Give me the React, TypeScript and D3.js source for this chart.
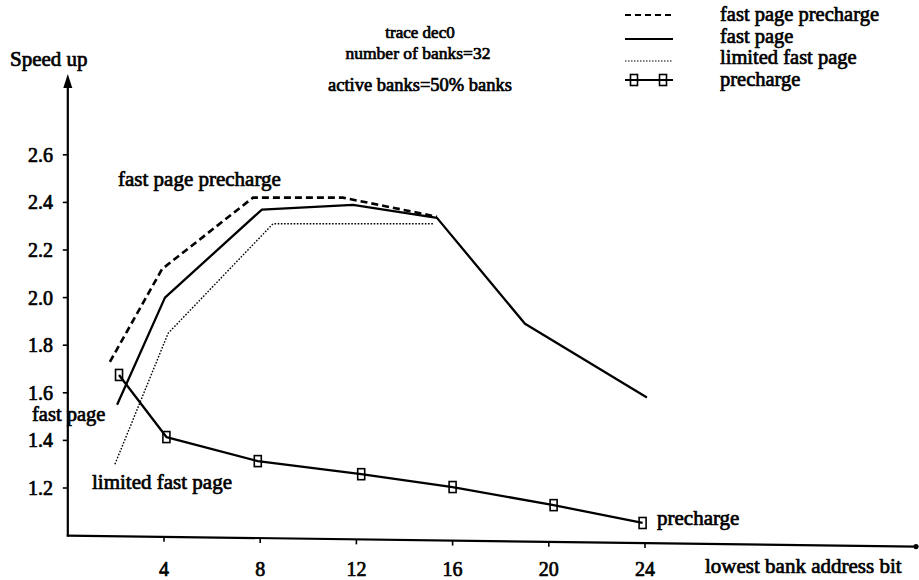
import React from "react";
import * as d3 from "d3";

// Speed-up vs. lowest bank address bit, trace dec0
const fastPagePrechargeX = [1.75, 3.92, 7.7, 11.44, 15.35];
const fastPagePrechargeY = [1.73, 2.12, 2.42, 2.42, 2.34];

const fastPageX = [2.05, 4.04, 8.07, 11.86, 15.35, 19.01, 24.08];
const fastPageY = [1.55, 2.0, 2.37, 2.39, 2.335, 1.89, 1.58];

const limitedFastPageX = [1.96, 4.17, 8.53, 15.18];
const limitedFastPageY = [1.3, 1.85, 2.31, 2.31];

const prechargeX = [2.13, 4.1, 7.9, 12.2, 16.0, 20.2, 23.9];
const prechargeY = [1.675, 1.414, 1.313, 1.258, 1.204, 1.128, 1.053];

const xTicks = [4, 8, 12, 16, 20, 24];
const yTicks = [1.2, 1.4, 1.6, 1.8, 2.0, 2.2, 2.4, 2.6];

const titleLines = ["trace  dec0", "number of banks=32", "active banks=50% banks"];
const legendLabels = ["fast page precharge", "fast page", "limited fast page", "precharge"];

const W = 919;
const H = 580;

const FONT = "'Liberation Serif', 'Times New Roman', serif";

// shared text attributes: serif, slightly heavy
const txt = {
  fontFamily: FONT,
  fill: "#000",
  stroke: "#000",
  strokeWidth: 0.7,
  strokeLinejoin: "round" as const,
};

export default function App() {
  const x = d3.scaleLinear().domain([0, 24]).range([67.8, 645]);
  const y = d3.scaleLinear().domain([1.0, 2.6]).range([535.6, 154.8]);

  const zip = (xs: number[], ys: number[]) => xs.map((v, i) => [v, ys[i]] as [number, number]);
  const line = d3
    .line<[number, number]>()
    .x((d) => x(d[0]))
    .y((d) => y(d[1]));

  const x0 = x(0);
  const y0 = y(1.0);
  const axisEndX = 916;
  // the baseline drifts slightly downward toward the right
  const slope = 11 / (axisEndX - x0);
  const axisY = (px: number) => y0 + slope * (px - x0);

  const prePts = zip(prechargeX, prechargeY);

  const legendX0 = 625;
  const legendX1 = 673;
  const legendRowsY = [15, 39, 61, 80];
  const legendTextBase = [21, 43, 64, 86];

  return (
    <svg
      width={W}
      height={H}
      viewBox={`0 0 ${W} ${H}`}
      style={{ position: "absolute", left: 0, top: 0, background: "#fff" }}
    >
      <rect x={0} y={0} width={W} height={H} fill="#fff" />

      {/* y axis with arrow */}
      <line x1={x0} y1={y0 + 1} x2={x0} y2={86} stroke="#000" strokeWidth={2.2} />
      <path d={`M${x0 - 4.5},${88} L${x0},${74} L${x0 + 4.5},${88} Z`} fill="#000" />
      {yTicks.map((t) => (
        <g key={"yt" + t}>
          <line x1={x0 - 5} x2={x0} y1={y(t)} y2={y(t)} stroke="#000" strokeWidth={1.6} />
          <text x={53} y={y(t)} dy="0.35em" textAnchor="end" fontSize={20} {...txt}>
            {t.toFixed(1)}
          </text>
        </g>
      ))}
      <text x={10} y={66} fontSize={21} {...txt}>
        Speed up
      </text>

      {/* x axis */}
      <line x1={x0 - 1} y1={y0} x2={axisEndX} y2={axisY(axisEndX)} stroke="#000" strokeWidth={2.2} />
      <circle cx={axisEndX} cy={axisY(axisEndX)} r={2.6} fill="#000" />
      {xTicks.map((t) => (
        <g key={"xt" + t}>
          <line
            x1={x(t)}
            x2={x(t)}
            y1={axisY(x(t))}
            y2={axisY(x(t)) + 5}
            stroke="#000"
            strokeWidth={1.6}
          />
          <text x={x(t)} y={576} textAnchor="middle" fontSize={20} {...txt}>
            {t}
          </text>
        </g>
      ))}
      <text x={705} y={573} fontSize={21} {...txt}>
        lowest bank address bit
      </text>

      {/* title block */}
      <text x={420} y={38} textAnchor="middle" fontSize={17} {...txt}>
        {titleLines[0]}
      </text>
      <text x={418} y={59} textAnchor="middle" fontSize={17.5} {...txt}>
        {titleLines[1]}
      </text>
      <text x={420} y={91} textAnchor="middle" fontSize={18.5} {...txt}>
        {titleLines[2]}
      </text>

      {/* series */}
      <path
        d={line(zip(fastPagePrechargeX, fastPagePrechargeY)) || ""}
        fill="none"
        stroke="#000"
        strokeWidth={2.6}
        strokeDasharray="7 4"
      />
      <path
        d={line(zip(fastPageX, fastPageY)) || ""}
        fill="none"
        stroke="#000"
        strokeWidth={2.3}
        strokeLinejoin="round"
      />
      <path
        d={line(zip(limitedFastPageX, limitedFastPageY)) || ""}
        fill="none"
        stroke="#000"
        strokeWidth={1.4}
        strokeDasharray="1.6 1.6"
      />
      <path d={line(prePts) || ""} fill="none" stroke="#000" strokeWidth={2.3} strokeLinejoin="round" />
      {prePts.map((p, i) => (
        <rect
          key={"m" + i}
          x={x(p[0]) - 3.5}
          y={y(p[1]) - 5.5}
          width={7}
          height={11}
          fill="none"
          stroke="#000"
          strokeWidth={1.6}
        />
      ))}

      {/* direct labels */}
      <text x={118} y={186} fontSize={21} {...txt}>
        fast page precharge
      </text>
      <text x={32} y={421} fontSize={20.5} {...txt}>
        fast page
      </text>
      <text x={92} y={489} fontSize={21} {...txt}>
        limited fast page
      </text>
      <text x={657} y={525} fontSize={21} {...txt}>
        precharge
      </text>

      {/* legend */}
      <line
        x1={legendX0}
        x2={legendX1}
        y1={legendRowsY[0]}
        y2={legendRowsY[0]}
        stroke="#000"
        strokeWidth={2}
        strokeDasharray="6 4"
      />
      <line
        x1={legendX0}
        x2={legendX1}
        y1={legendRowsY[1]}
        y2={legendRowsY[1]}
        stroke="#000"
        strokeWidth={2}
      />
      <line
        x1={legendX0}
        x2={legendX1}
        y1={legendRowsY[2]}
        y2={legendRowsY[2]}
        stroke="#000"
        strokeWidth={1.2}
        strokeDasharray="1.5 1.5"
      />
      <line
        x1={legendX0}
        x2={legendX1}
        y1={legendRowsY[3]}
        y2={legendRowsY[3]}
        stroke="#000"
        strokeWidth={2}
      />
      {[634, 663].map((mx) => (
        <rect
          key={"lm" + mx}
          x={mx - 3.5}
          y={legendRowsY[3] - 5.5}
          width={7}
          height={11}
          fill="none"
          stroke="#000"
          strokeWidth={1.6}
        />
      ))}
      {legendLabels.map((lab, i) => (
        <text key={lab} x={720} y={legendTextBase[i]} fontSize={20.5} {...txt}>
          {lab}
        </text>
      ))}
    </svg>
  );
}
